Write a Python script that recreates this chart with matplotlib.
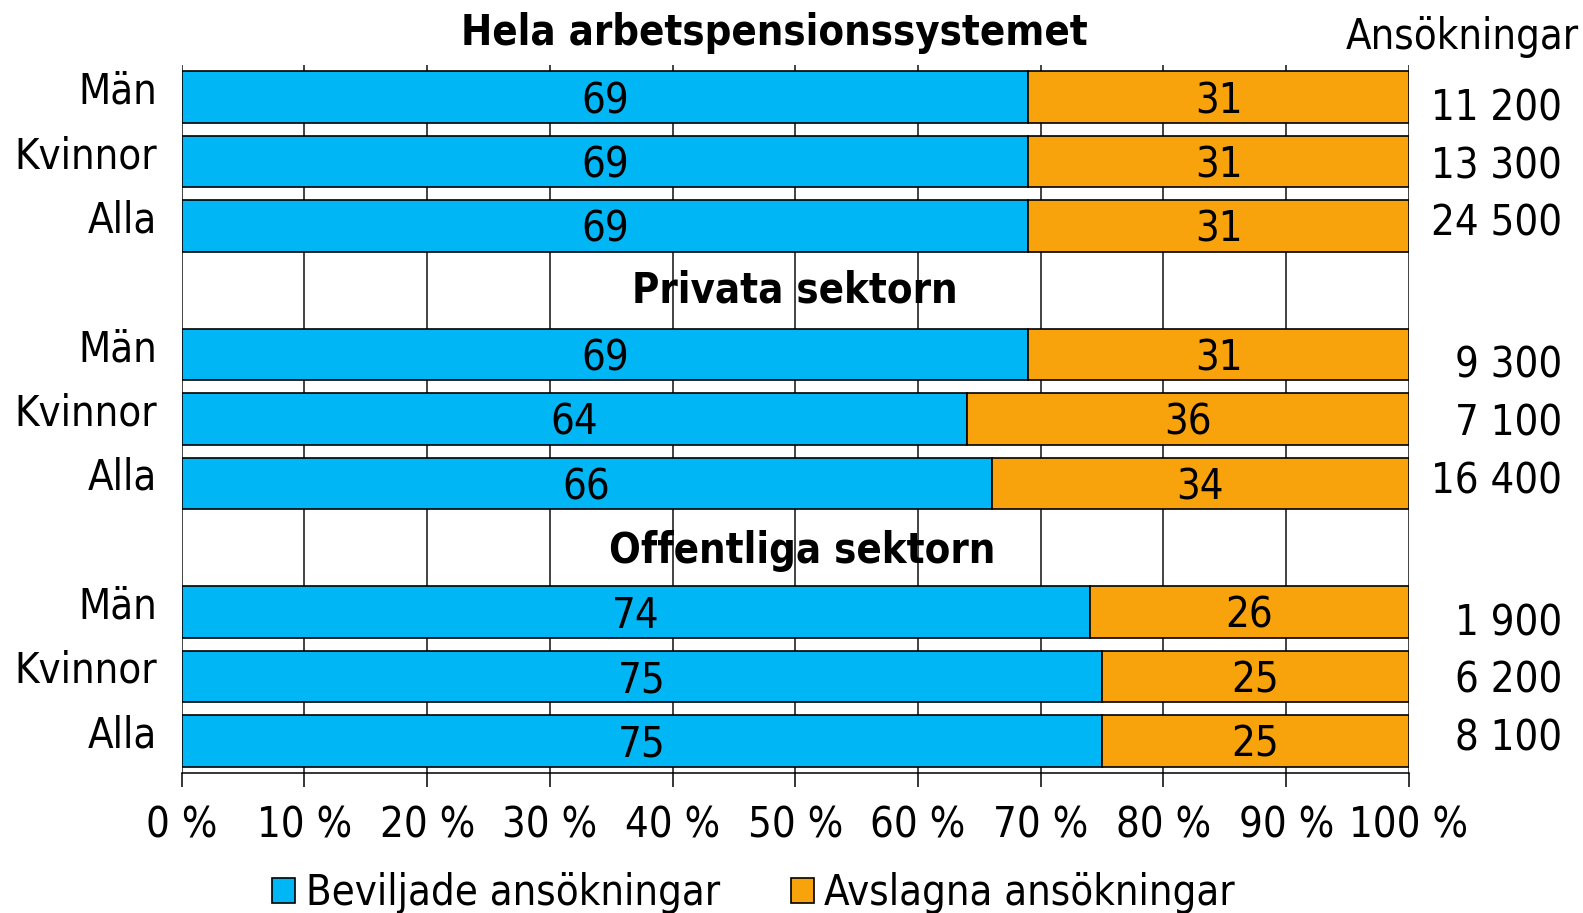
# Stacked bar chart: approved vs rejected applications by sector and gender.
import numpy as np
import matplotlib
matplotlib.use("Agg")
import matplotlib.pyplot as plt
import matplotlib.transforms as mtransforms
from matplotlib.patches import Patch

# Data.
groups = ["Hela arbetspensionssystemet", "Privata sektorn", "Offentliga sektorn"]
rows = ["Män", "Kvinnor", "Alla"]
approved = [[69, 69, 69], [69, 64, 66], [74, 75, 75]]
rejected = [[31, 31, 31], [31, 36, 34], [26, 25, 25]]
applications = [["11 200", "13 300", "24 500"],
                ["9 300", "7 100", "16 400"],
                ["1 900", "6 200", "8 100"]]
xticks = np.arange(0, 101, 10)
xtick_labels = [f"{t} %" for t in xticks]
legend_labels = ["Beviljade ansökningar", "Avslagna ansökningar"]
count_header = "Ansökningar"

blue = "#00B6F5"
orange = "#F8A20C"

plt.rcParams["font.family"] = ["DejaVu Sans"]
plt.rcParams["font.stretch"] = "condensed"
fs = 30

fig = plt.figure(figsize=(15.83, 9.13), dpi=100)
ax = fig.add_axes([0.1148, 0.1533, 0.7752, 0.7755])

# Each group takes 4 slots: header slot + 3 bars (first header sits above the axes).
ypos, ylabels = [], []
for g in range(len(groups)):
    for r in range(len(rows)):
        y = g * 4 + r
        a = approved[g][r]
        b = rejected[g][r]
        ax.barh(y, a, height=0.8, color=blue, edgecolor="black", linewidth=1.2, zorder=3)
        ax.barh(y, b, left=a, height=0.8, color=orange, edgecolor="black", linewidth=1.2, zorder=3)
        ax.text(a / 2, y + 0.06, str(a), ha="center", va="center", fontsize=fs, zorder=4)
        ax.text(a + b / 2, y + 0.06, str(b), ha="center", va="center", fontsize=fs, zorder=4)
        ax.text(1.1247, y + 0.07 + 0.1 * (1 - r), applications[g][r], ha="right", va="center",
                fontsize=fs, transform=ax.get_yaxis_transform())
        ypos.append(y)
        ylabels.append(rows[r])

# Group headers
ax.text(48.3, -1.0, groups[0], ha="center", va="center", fontsize=fs, fontweight="bold",
        clip_on=False)
ax.text(50.0, 3.0, groups[1], ha="center", va="center", fontsize=fs, fontweight="bold")
ax.text(50.6, 7.05, groups[2], ha="center", va="center", fontsize=fs, fontweight="bold")
ax.text(1.0432, -0.93, count_header, ha="center", va="center", fontsize=fs,
        transform=ax.get_yaxis_transform())

ax.set_xlim(0, 100)
ax.set_ylim(10.5, -0.5)
ax.set_xticks(xticks)
ax.set_xticklabels(xtick_labels, fontsize=fs)
ax.set_yticks(ypos)
ax.set_yticklabels(ylabels, fontsize=fs)
ax.tick_params(axis="y", length=0, pad=18)
ax.tick_params(axis="x", direction="out", length=10, width=1.1, color="black", pad=13)
shift = mtransforms.ScaledTranslation(0, 0.1, fig.dpi_scale_trans)
for lab in ax.get_yticklabels():
    lab.set_transform(lab.get_transform() + shift)

ax.grid(axis="x", color="#222222", linewidth=1.2, zorder=0)
ax.set_axisbelow(True)
for side in ["top", "left", "right"]:
    ax.spines[side].set_visible(False)
ax.spines["bottom"].set_linewidth(1.1)

handles = [Patch(facecolor=blue, edgecolor="black", linewidth=1.2),
           Patch(facecolor=orange, edgecolor="black", linewidth=1.2)]
fig.legend(handles, legend_labels, loc="center", bbox_to_anchor=(0.476, 0.022), ncol=2,
           frameon=False, fontsize=fs, handlelength=0.55, handleheight=0.55,
           handletextpad=0.25, columnspacing=1.7)

fig.savefig("out.png", dpi=100)
